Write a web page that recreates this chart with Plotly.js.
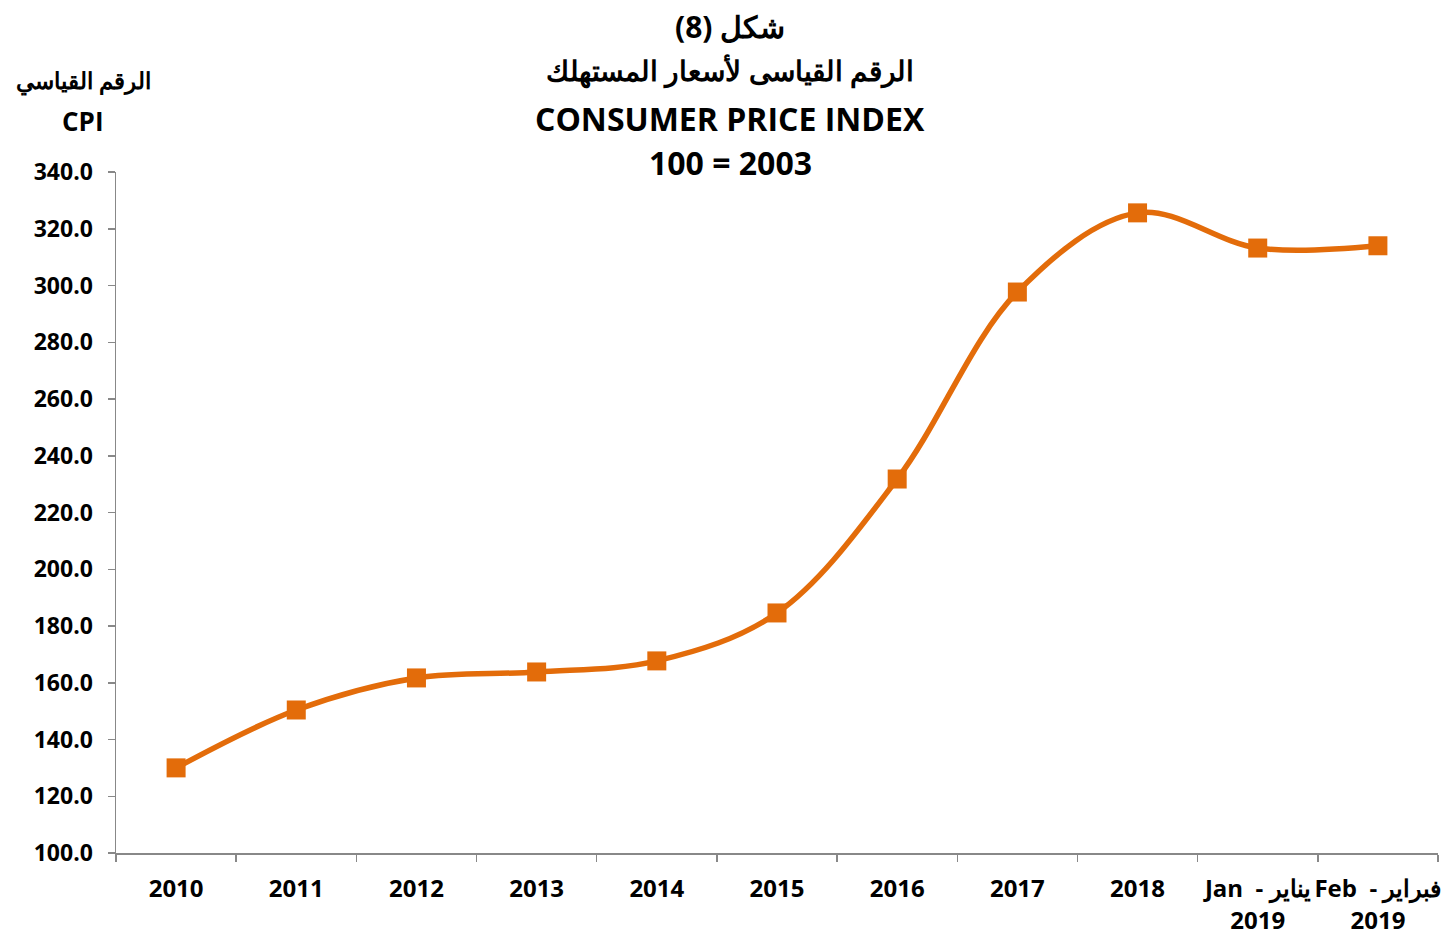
<!DOCTYPE html>
<html>
<head>
<meta charset="utf-8">
<script src="https://cdn.plot.ly/plotly-3.0.1.min.js"></script>
<style>html,body{margin:0;padding:0;background:#fff;}#chart{width:1445px;height:939px;}</style>
</head>
<body>
<div id="chart"></div>
<script>
const categories = ["2010","2011","2012","2013","2014","2015","2016","2017","2018","Jan  - يناير<br>2019","Feb  - فبراير<br>2019"];
const cpiValues = [130.0, 150.4, 161.7, 163.8, 167.7, 184.6, 231.8, 297.7, 325.6, 313.2, 314.0];
const yTickValues = [100,120,140,160,180,200,220,240,260,280,300,320,340];
const titleLines = ["شكل (8)", "الرقم القياسى لأسعار المستهلك", "CONSUMER PRICE INDEX", "100 = 2003"];
const yTitleLines = ["الرقم القياسي", "CPI"];

const FONT = "'Open Sans', 'Noto Sans', sans-serif";
const trace = {
  x: categories, y: cpiValues, type: "scatter", mode: "lines+markers",
  line: {color: "#E36C0A", width: 5.5, shape: "spline", smoothing: 1},
  marker: {symbol: "square", size: 19, color: "#E36C0A"},
  cliponaxis: false, hoverinfo: "skip"
};
const titleY = [27, 70, 118, 163];
const titleSizes = [30, 28, 32, 32];
const annotations = titleLines.map((t, i) => ({
  text: "<b>" + t + "</b>", xref: "paper", yref: "paper", x: (730-116)/(1438-116),
  y: 1 + (172 - titleY[i]) / 681, xanchor: "center", yanchor: "middle", showarrow: false,
  font: {family: FONT, size: titleSizes[i], color: "#000", weight: "bold"}
}));
const yTitleY = [80, 121];
const yTitleSizes = [23, 26];
yTitleLines.forEach((t, i) => annotations.push({
  text: "<b>" + t + "</b>", xref: "paper", yref: "paper", x: (83-116)/(1438-116),
  y: 1 + (172 - yTitleY[i]) / 681, xanchor: "center", yanchor: "middle", showarrow: false,
  font: {family: FONT, size: yTitleSizes[i], color: "#000", weight: "bold"}
}));
const layout = {
  width: 1445, height: 939,
  margin: {l: 116, r: 7, t: 172, b: 86},
  paper_bgcolor: "#fff", plot_bgcolor: "#fff",
  showlegend: false,
  font: {family: FONT, color: "#000"},
  xaxis: {
    type: "category", tickson: "boundaries", ticks: "outside", ticklen: 7, tickcolor: "#888", tickwidth: 1.5,
    showline: true, linecolor: "#888", linewidth: 1.5, showgrid: false, zeroline: false,
    tickfont: {family: FONT, size: 24, color: "#000", weight: "bold"}, ticklabelstandoff: 14, tickangle: 0,
    range: [-0.5, 10.5], fixedrange: true
  },
  yaxis: {
    range: [100, 340], tickvals: yTickValues, tickformat: ".1f", ticks: "outside", ticklen: 7, tickcolor: "#888", tickwidth: 1.5,
    showline: true, linecolor: "#888", linewidth: 1.5, showgrid: false, zeroline: false,
    tickfont: {family: FONT, size: 23, color: "#000", weight: "bold"}, ticklabelstandoff: 10, fixedrange: true
  },
  annotations: annotations
};
Plotly.newPlot("chart", [trace], layout, {displayModeBar: false, staticPlot: true});
</script>
</body>
</html>
